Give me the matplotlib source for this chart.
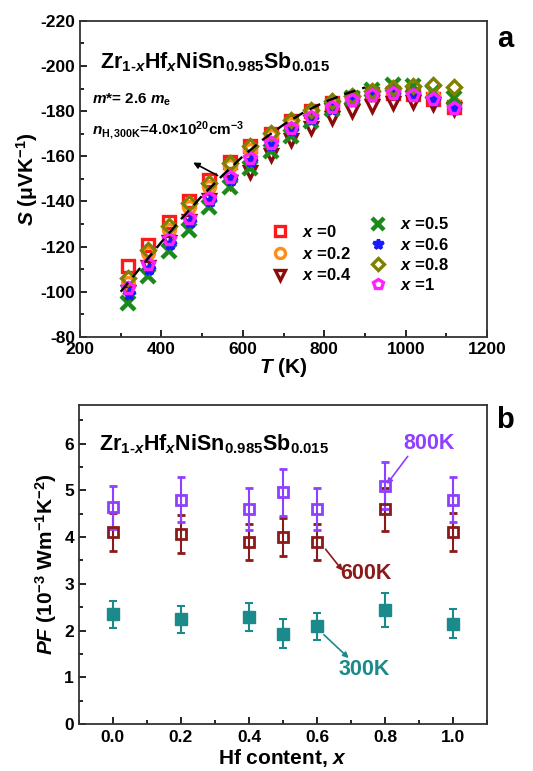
import numpy as np
import matplotlib
matplotlib.use('Agg')
import matplotlib.pyplot as plt
from matplotlib.ticker import MultipleLocator, FormatStrFormatter

plt.rcParams['font.family'] = ['Liberation Sans', 'DejaVu Sans']
plt.rcParams['font.weight'] = 'bold'
plt.rcParams['axes.labelweight'] = 'bold'
plt.rcParams['axes.unicode_minus'] = False
plt.rcParams['mathtext.fontset'] = 'custom'
plt.rcParams['mathtext.rm'] = 'Liberation Sans:bold'
plt.rcParams['mathtext.it'] = 'Liberation Sans:bold:italic'
plt.rcParams['mathtext.bf'] = 'Liberation Sans:bold'

# ---- panel a: Seebeck coefficient vs temperature ----
T = [323, 373, 423, 473, 523, 573, 623, 673, 723, 773, 823, 873, 923, 973, 1023, 1073, 1123]
S_x0 = [-111.2, -120.8, -131.1, -140.4, -149.3, -157.5, -164.5, -170.0, -175.5, -180.0,
        -183.5, -186.0, -187.5, -188.0, -187.5, -185.5, -182.0]
S_x02 = [-104.0, -117.0, -127.5, -137.5, -146.5, -155.5, -163.0, -169.0, -174.5, -179.0,
         -183.0, -185.5, -187.5, -188.5, -188.0, -186.5, -183.0]
S_x04 = [-100.0, -111.0, -122.0, -131.5, -140.5, -148.5, -153.2, -160.6, -167.3, -172.5,
         -176.9, -180.0, -182.2, -183.7, -184.0, -183.0, -181.0]
S_x05 = [-95.0, -107.0, -118.0, -127.5, -137.5, -146.5, -155.0, -162.5, -169.0, -175.5,
         -181.0, -186.0, -189.5, -191.5, -191.0, -188.5, -186.0]
S_x06 = [-99.0, -110.0, -121.0, -131.0, -140.0, -149.5, -158.0, -165.0, -171.5, -176.5,
         -181.0, -184.5, -186.5, -187.5, -187.0, -185.0, -181.0]
S_x08 = [-106.0, -118.5, -129.2, -139.2, -148.1, -157.0, -164.4, -170.3, -176.2, -180.6,
         -184.3, -186.5, -189.0, -190.4, -191.2, -191.4, -190.8]
S_x1 = [-101.5, -112.5, -123.3, -132.6, -141.7, -151.0, -159.2, -166.1, -172.5, -177.3,
        -182.0, -185.0, -187.2, -188.0, -187.2, -185.3, -181.5]

# single parabolic band model curve (dashed)
T_model = [300, 350, 400, 450, 500, 550, 600, 650, 700, 750, 800, 850, 900]
S_model = [-100.0, -111.0, -122.0, -132.5, -142.5, -151.5, -160.0, -167.5, -174.0,
           -179.5, -184.0, -187.5, -190.5]

# ---- panel b: power factor vs Hf content ----
hf = [0.0, 0.2, 0.4, 0.5, 0.6, 0.8, 1.0]
pf_800 = [4.64, 4.80, 4.59, 4.96, 4.59, 5.10, 4.80]
err_800 = [0.46, 0.48, 0.45, 0.50, 0.45, 0.51, 0.48]
pf_600 = [4.11, 4.07, 3.89, 4.00, 3.89, 4.59, 4.11]
err_600 = [0.41, 0.41, 0.39, 0.40, 0.39, 0.46, 0.41]
pf_300 = [2.35, 2.24, 2.29, 1.93, 2.09, 2.44, 2.14]
err_300 = [0.29, 0.29, 0.29, 0.31, 0.29, 0.36, 0.31]

formula = r'Zr$_{1\text{-}x}$Hf$_{x}$NiSn$_{0.985}$Sb$_{0.015}$'

fig = plt.figure(figsize=(5.33, 7.71), dpi=100)
ax1 = fig.add_axes([0.150, 0.563, 0.764, 0.410])
ax2 = fig.add_axes([0.148, 0.061, 0.766, 0.414])


def style_axis(ax):
    for sp in ax.spines.values():
        sp.set_linewidth(1.3)
        sp.set_color('#333333')
    ax.tick_params(which='both', direction='in', width=1.2, labelsize=12.5)
    ax.tick_params(which='major', length=5)
    ax.tick_params(which='minor', length=3)
    ax.tick_params(axis='x', pad=4)


series = [
    (S_x0, 's', '#ff1a1a', 'none', r'$x$ =0', 0),
    (S_x02, 'o', '#ff8c1a', 'none', r'$x$ =0.2', 0),
    (S_x04, 'v', '#8b0a0a', 'none', r'$x$ =0.4', 0),
    (S_x05, 'x', '#1a8a1a', None, r'$x$ =0.5', 0),
    (S_x06, '*', '#1a1aff', '#1a1aff', r'$x$ =0.6', 2),
    (S_x08, 'D', '#808000', 'none', r'$x$ =0.8', 0),
    (S_x1, 'p', '#ff22ff', 'none', r'$x$ =1', 0),
]

handles = []
for s_vals, mk, col, fc, lab, dt in series:
    ms = 8.5 if mk != 'D' else 7
    if mk == 'x':
        h, = ax1.plot(np.array(T) - 5, s_vals, ls='none', marker='x', ms=9.5, mew=3.2,
                      color=col, label=lab)
    else:
        h, = ax1.plot(np.array(T) + dt - 5, s_vals, ls='none', marker=mk, ms=ms, mew=2.4,
                      color=col, mfc=fc, label=lab)
    handles.append(h)

ax1.plot(T_model, S_model, ls=(0, (5, 3)), color='black', lw=1.7)
ax1.annotate('', xy=(472, -157.8), xytext=(544, -150.9),
             arrowprops=dict(arrowstyle='-|>', color='black', lw=1.2,
                             mutation_scale=9))

ax1.set_xlim(200, 1200)
ax1.set_ylim(-80, -220)
ax1.xaxis.set_major_locator(MultipleLocator(200))
ax1.xaxis.set_minor_locator(MultipleLocator(100))
ax1.yaxis.set_major_locator(MultipleLocator(20))
ax1.yaxis.set_minor_locator(MultipleLocator(10))
style_axis(ax1)
ax1.set_xlabel(r'$T$ (K)', fontsize=15, labelpad=-1)
ax1.set_ylabel(r'$S$ (μVK$^{-1}$)', fontsize=15, labelpad=0)

ax1.text(0.05, 0.87, formula, transform=ax1.transAxes, fontsize=15.5, va='center')
ax1.text(0.03, 0.75, r'$m$*= 2.6 $m_{\mathrm{e}}$', transform=ax1.transAxes,
         fontsize=11, va='center')
ax1.text(0.03, 0.655, r'$n_{\mathrm{H,300K}}$=4.0×10$^{20}$cm$^{-3}$',
         transform=ax1.transAxes, fontsize=11, va='center')

leg_kw = dict(loc='upper left', frameon=False, fontsize=12, handlelength=1.1,
              handletextpad=0.8, borderpad=0.2, markerscale=0.85)
leg1 = ax1.legend(handles=handles[:3], bbox_to_anchor=(0.44, 0.395),
                  labelspacing=0.35, **leg_kw)
ax1.add_artist(leg1)
ax1.legend(handles=handles[3:], bbox_to_anchor=(0.68, 0.418),
           labelspacing=0.25, **leg_kw)

fig.text(0.948, 0.950, 'a', fontsize=21, ha='center', va='center')

# ---- panel b ----
c800 = '#8f3fff'
c600 = '#8b1a1a'
c300 = '#1a8a8a'
ax2.errorbar(hf, pf_300, yerr=err_300, fmt='s', ms=8.5, color=c300, mfc=c300,
             elinewidth=1.5, capsize=3, capthick=1.5)
ax2.errorbar(hf, pf_600, yerr=err_600, fmt='s', ms=6.5, color=c600, mfc='none', mew=2,
             elinewidth=1.5, capsize=3, capthick=1.5)
ax2.errorbar(hf, pf_800, yerr=err_800, fmt='s', ms=6.5, color=c800, mfc='none', mew=2,
             elinewidth=1.5, capsize=3, capthick=1.5)

ax2.annotate('800K', xy=(0.805, 5.13), xytext=(0.93, 6.01), color=c800, fontsize=15.5,
             ha='center', va='center',
             arrowprops=dict(arrowstyle='-|>', color=c800, lw=1.2, mutation_scale=8,
                             shrinkA=0, shrinkB=0, relpos=(0.12, 0.0)))
ax2.annotate('', xy=(0.675, 3.28), xytext=(0.625, 3.74),
             arrowprops=dict(arrowstyle='-|>', color=c600, lw=1.2, mutation_scale=8,
                             shrinkA=0, shrinkB=0))
ax2.text(0.745, 3.22, '600K', color=c600, fontsize=15.5, ha='center', va='center')
ax2.annotate('', xy=(0.693, 1.41), xytext=(0.62, 1.91),
             arrowprops=dict(arrowstyle='-|>', color=c300, lw=1.2, mutation_scale=8,
                             shrinkA=0, shrinkB=0))
ax2.text(0.74, 1.16, '300K', color=c300, fontsize=15.5, ha='center', va='center')

ax2.set_xlim(-0.1, 1.1)
ax2.set_ylim(0, 6.83)
ax2.xaxis.set_major_locator(MultipleLocator(0.2))
ax2.xaxis.set_minor_locator(MultipleLocator(0.1))
ax2.yaxis.set_major_locator(MultipleLocator(1))
ax2.yaxis.set_minor_locator(MultipleLocator(0.5))
ax2.xaxis.set_major_formatter(FormatStrFormatter('%.1f'))
style_axis(ax2)
ax2.set_xlabel(r'Hf content, $x$', fontsize=15, labelpad=2)
ax2.set_ylabel(r'$PF$ (10$^{-3}$ Wm$^{-1}$K$^{-2}$)', fontsize=15, labelpad=4)
ax2.text(0.05, 0.875, formula, transform=ax2.transAxes, fontsize=15.5, va='center')

fig.text(0.948, 0.455, 'b', fontsize=21, ha='center', va='center')

fig.savefig('out.png', dpi=100)
